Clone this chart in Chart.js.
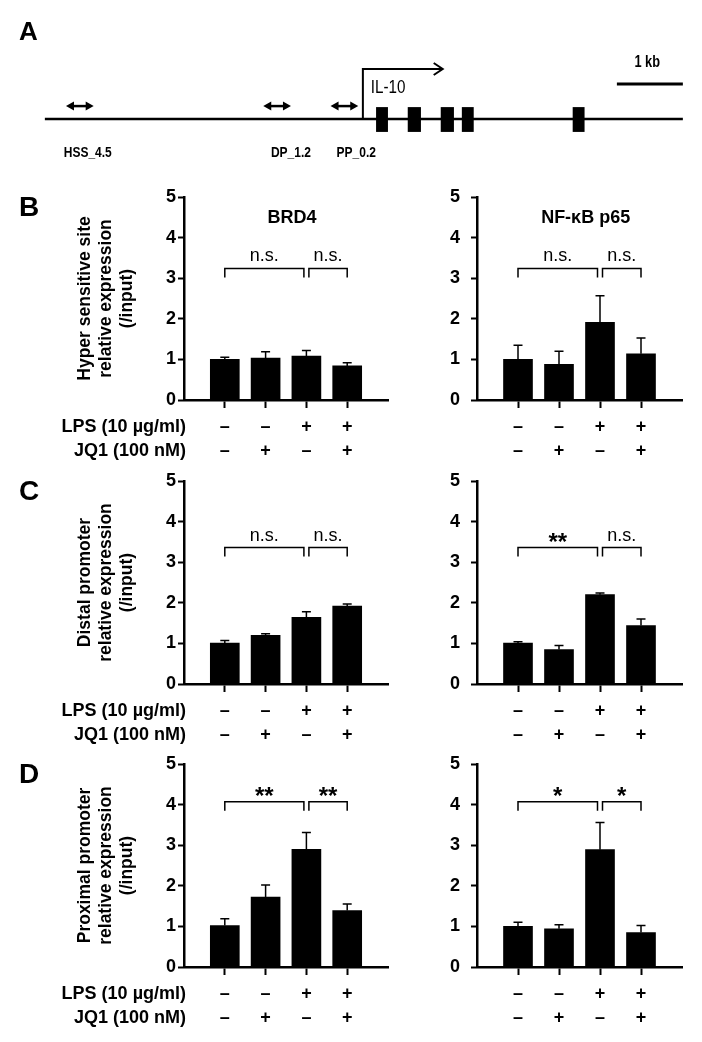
<!DOCTYPE html>
<html>
<head>
<meta charset="utf-8">
<script src="https://cdn.jsdelivr.net/npm/chart.js@4.4.1/dist/chart.umd.min.js"></script>
<style>
  html, body { margin: 0; padding: 0; background: #fff; }
  #page { position: relative; width: 702px; height: 1042px; overflow: hidden; background: #fff; }
  #page canvas { position: absolute; }
</style>
</head>
<body>
<div id="page">
  <canvas id="locus" width="702" height="170" style="left:0;top:0"></canvas>
  <canvas id="hssBrd4" width="395" height="303" style="left:0;top:167px"></canvas>
  <canvas id="hssP65" width="307" height="303" style="left:395px;top:167px"></canvas>
  <canvas id="dpBrd4" width="395" height="303" style="left:0;top:451px"></canvas>
  <canvas id="dpP65" width="307" height="303" style="left:395px;top:451px"></canvas>
  <canvas id="ppBrd4" width="395" height="303" style="left:0;top:734px"></canvas>
  <canvas id="ppP65" width="307" height="303" style="left:395px;top:734px"></canvas>
</div>
<script>
const FONT = "'Liberation Sans', Arial, Helvetica, sans-serif";

// ---- panel A: IL-10 locus, positions in kb relative to the TSS ----
const locusStart = -4.82;
const locusEnd = 4.85;
const exonStart = [0.20, 0.68, 1.18, 1.50, 3.18];
const exonEnd = [0.38, 0.88, 1.38, 1.68, 3.36];
const ampliconNames = ['HSS_4.5', 'DP_1.2', 'PP_0.2'];
const ampliconPos = [-4.29, -1.30, -0.28];
const ampliconLabelPos = [-4.17, -1.09, -0.10];
const tssArrowEnd = 1.21;
const scaleBar = [3.85, 4.85];

// ---- panels B-D: ChIP-qPCR, relative to input ----
const lpsRow = ['–', '–', '+', '+'];
const jq1Row = ['–', '+', '–', '+'];
const comparisons = [[0, 2], [2, 3]];

// B: hypersensitive site
const brd4Hss = [1.00, 1.03, 1.08, 0.84];
const brd4HssErr = [0.05, 0.16, 0.14, 0.08];
const p65Hss = [1.00, 0.88, 1.91, 1.14];
const p65HssErr = [0.35, 0.32, 0.66, 0.39];
const brd4HssSig = ['n.s.', 'n.s.'];
const p65HssSig = ['n.s.', 'n.s.'];

// C: distal promoter
const brd4Dp = [1.01, 1.20, 1.64, 1.92];
const brd4DpErr = [0.06, 0.04, 0.14, 0.05];
const p65Dp = [1.01, 0.85, 2.20, 1.44];
const p65DpErr = [0.03, 0.10, 0.04, 0.16];
const brd4DpSig = ['n.s.', 'n.s.'];
const p65DpSig = ['**', 'n.s.'];

// D: proximal promoter
const brd4Pp = [1.02, 1.72, 2.90, 1.39];
const brd4PpErr = [0.17, 0.30, 0.41, 0.16];
const p65Pp = [1.00, 0.94, 2.89, 0.85];
const p65PpErr = [0.10, 0.10, 0.67, 0.17];
const brd4PpSig = ['**', '**'];
const p65PpSig = ['*', '*'];

const bracketLevel = { hss: 3.24, dp: 3.36, pp: 4.07 };

Chart.defaults.font.family = FONT;
Chart.defaults.color = '#000';

function condensedText(ctx, text, px, py, font, align) {
  ctx.save();
  ctx.translate(px, py);
  ctx.scale(0.8, 1);
  ctx.font = font;
  ctx.textAlign = align;
  ctx.textBaseline = 'middle';
  ctx.fillText(text, 0, 0);
  ctx.restore();
}

const locusPlugin = {
  id: 'locus',
  afterDatasetsDraw(chart) {
    const { ctx, scales: { x, y } } = chart;
    ctx.save();
    ctx.fillStyle = '#000';
    ctx.strokeStyle = '#000';

    ctx.font = `bold 26px ${FONT}`;
    ctx.textBaseline = 'alphabetic';
    ctx.fillText('A', 19, 40);

    exonStart.forEach((s, i) => {
      const x1 = x.getPixelForValue(s), x2 = x.getPixelForValue(exonEnd[i]);
      const y1 = y.getPixelForValue(0.35), y2 = y.getPixelForValue(-0.38);
      ctx.fillRect(x1, y1, x2 - x1, y2 - y1);
    });

    ampliconPos.forEach((c, i) => {
      const x1 = x.getPixelForValue(c - 0.21), x2 = x.getPixelForValue(c + 0.21);
      const py = y.getPixelForValue(0.38);
      ctx.lineWidth = 2.5;
      ctx.beginPath();
      ctx.moveTo(x1 + 6, py);
      ctx.lineTo(x2 - 6, py);
      ctx.stroke();
      ctx.beginPath();
      ctx.moveTo(x1, py); ctx.lineTo(x1 + 8, py - 4.5); ctx.lineTo(x1 + 8, py + 4.5); ctx.closePath();
      ctx.moveTo(x2, py); ctx.lineTo(x2 - 8, py - 4.5); ctx.lineTo(x2 - 8, py + 4.5); ctx.closePath();
      ctx.fill();
      condensedText(ctx, ampliconNames[i], x.getPixelForValue(ampliconLabelPos[i]), y.getPixelForValue(-1.0), `bold 15px ${FONT}`, 'center');
    });

    // open arrow head on the transcription start arrow
    const tipX = x.getPixelForValue(tssArrowEnd), tipY = y.getPixelForValue(1.47);
    ctx.lineWidth = 2;
    ctx.beginPath();
    ctx.moveTo(tipX - 9, tipY - 6);
    ctx.lineTo(tipX, tipY);
    ctx.lineTo(tipX - 9, tipY + 6);
    ctx.stroke();

    condensedText(ctx, 'IL-10', x.getPixelForValue(0.12), y.getPixelForValue(0.91), `19px ${FONT}`, 'left');
    condensedText(ctx, '1 kb', x.getPixelForValue((scaleBar[0] + scaleBar[1]) / 2 - 0.04), y.getPixelForValue(1.65), `bold 16px ${FONT}`, 'center');
    ctx.restore();
  }
};

new Chart(document.getElementById('locus'), {
  type: 'scatter',
  data: {
    datasets: [
      { data: [{ x: locusStart, y: 0 }, { x: locusEnd, y: 0 }], showLine: true, borderColor: '#000', borderWidth: 2.5, pointRadius: 0 },
      { data: [{ x: 0, y: 0 }, { x: 0, y: 1.47 }, { x: tssArrowEnd, y: 1.47 }], showLine: true, borderColor: '#000', borderWidth: 2, pointRadius: 0 },
      { data: [{ x: scaleBar[0], y: 1.03 }, { x: scaleBar[1], y: 1.03 }], showLine: true, borderColor: '#000', borderWidth: 3, pointRadius: 0 }
    ]
  },
  options: {
    responsive: false,
    animation: false,
    events: [],
    layout: { padding: 0 },
    plugins: { legend: { display: false }, tooltip: { enabled: false } },
    scales: {
      x: { type: 'linear', display: false, min: -5.5, max: 5.14 },
      y: { type: 'linear', display: false, min: -1.5, max: 3.5 }
    }
  },
  plugins: [locusPlugin]
});

// error bars, significance brackets and extra labels
const annotate = {
  id: 'annot',
  afterDraw(chart, args, o) {
    const { ctx, chartArea: area, scales: { x, y } } = chart;
    const meta = chart.getDatasetMeta(0);
    const data = chart.data.datasets[0].data;
    ctx.save();
    ctx.strokeStyle = '#000';
    ctx.fillStyle = '#000';
    ctx.lineWidth = 1.5;

    meta.data.forEach((bar, i) => {
      if (data[i] == null) return;
      const top = y.getPixelForValue(data[i] + o.errors[i]);
      ctx.beginPath();
      ctx.moveTo(bar.x, bar.y);
      ctx.lineTo(bar.x, top);
      ctx.moveTo(bar.x - 4.5, top);
      ctx.lineTo(bar.x + 4.5, top);
      ctx.stroke();
    });

    const yb = y.getPixelForValue(o.level);
    comparisons.forEach(([a, b], k) => {
      const x1 = x.getPixelForValue(a + 1) + (a === 2 ? 2.5 : 0);
      const x2 = x.getPixelForValue(b + 1) - (b === 2 ? 2.5 : 0);
      ctx.lineWidth = 1.5;
      ctx.beginPath();
      ctx.moveTo(x1, yb + 9);
      ctx.lineTo(x1, yb);
      ctx.lineTo(x2, yb);
      ctx.lineTo(x2, yb + 9);
      ctx.stroke();
      const label = o.sig[k];
      const star = label.includes('*');
      ctx.font = star ? `bold 24px ${FONT}` : `18px ${FONT}`;
      ctx.textAlign = 'center';
      ctx.textBaseline = 'alphabetic';
      const m = ctx.measureText(label);
      const cy = yb - (star ? 10 : 12);
      ctx.fillText(label, (x1 + x2) / 2, cy + (m.actualBoundingBoxAscent - m.actualBoundingBoxDescent) / 2);
    });

    if (o.title) {
      ctx.font = `bold 18px ${FONT}`;
      ctx.textAlign = 'center';
      ctx.textBaseline = 'middle';
      ctx.fillText(o.title, x.getPixelForValue(2.65), y.getPixelForValue(4.47));
    }
    if (o.letter) {
      ctx.font = `bold 28px ${FONT}`;
      ctx.textAlign = 'left';
      ctx.textBaseline = 'alphabetic';
      ctx.fillText(o.letter, 19, area.top + 19);
    }
    if (o.rows) {
      ctx.font = `bold 18px ${FONT}`;
      ctx.textAlign = 'right';
      ctx.textBaseline = 'middle';
      ctx.fillText('LPS (10 µg/ml)', 186, area.bottom + 27);
      ctx.fillText('JQ1 (100 nM)', 186, area.bottom + 51);
    }
    ctx.restore();
  }
};

const axisFont = { family: FONT, size: 18, weight: 'bold' };

function buildBarChart(id, values, errors, sig, level, panel) {
  const isLeft = panel.side === 'left';
  return new Chart(document.getElementById(id), {
    type: 'bar',
    data: {
      labels: [''].concat(lpsRow.map((v, i) => [v, jq1Row[i]]), ['']),
      datasets: [{
        data: [null, ...values, null],
        backgroundColor: '#000',
        borderWidth: 0,
        barThickness: 29
      }]
    },
    options: {
      responsive: false,
      animation: false,
      events: [],
      layout: { padding: { top: 30, right: isLeft ? 6 : 20, bottom: 0, left: 0 } },
      plugins: {
        legend: { display: false },
        tooltip: { enabled: false },
        annot: {
          errors: [null, ...errors, null],
          sig: sig,
          level: level,
          title: panel.title || '',
          letter: panel.letter || '',
          rows: isLeft
        }
      },
      scales: {
        x: {
          type: 'category',
          offset: false,
          grid: {
            offset: false,
            drawOnChartArea: false,
            drawTicks: true,
            tickLength: 8,
            tickWidth: 2,
            tickColor: c => (c.index === 0 || c.index === 5) ? 'rgba(0,0,0,0)' : '#000'
          },
          border: { display: true, color: '#000', width: 2.5 },
          ticks: { color: '#000', font: { ...axisFont, lineHeight: '24px' }, padding: 7, autoSkip: false, maxRotation: 0, minRotation: 0 },
          afterFit: s => { s.height = 70; }
        },
        y: {
          min: 0,
          max: 5,
          ticks: { stepSize: 1, color: '#000', font: axisFont, padding: isLeft ? 2 : 11 },
          grid: { drawOnChartArea: false, drawTicks: true, tickLength: 6, tickWidth: 2, tickColor: '#000' },
          border: { display: true, color: '#000', width: 2.5 },
          title: {
            display: isLeft,
            text: panel.yTitle || '',
            color: '#000',
            font: { family: FONT, size: 17.5, weight: 'bold', lineHeight: 1.2 },
            padding: { top: 74.5, bottom: 0 }
          },
          afterFit: s => { s.width = isLeft ? 184 : 82; }
        }
      }
    },
    plugins: [annotate]
  });
}

buildBarChart('hssBrd4', brd4Hss, brd4HssErr, brd4HssSig, bracketLevel.hss,
  { side: 'left', letter: 'B', title: 'BRD4', yTitle: ['Hyper sensitive site', 'relative expression', '(/input)'] });
buildBarChart('hssP65', p65Hss, p65HssErr, p65HssSig, bracketLevel.hss,
  { side: 'right', title: 'NF-κB p65' });
buildBarChart('dpBrd4', brd4Dp, brd4DpErr, brd4DpSig, bracketLevel.dp,
  { side: 'left', letter: 'C', yTitle: ['Distal promoter', 'relative expression', '(/input)'] });
buildBarChart('dpP65', p65Dp, p65DpErr, p65DpSig, bracketLevel.dp,
  { side: 'right' });
buildBarChart('ppBrd4', brd4Pp, brd4PpErr, brd4PpSig, bracketLevel.pp,
  { side: 'left', letter: 'D', yTitle: ['Proximal promoter', 'relative expression', '(/input)'] });
buildBarChart('ppP65', p65Pp, p65PpErr, p65PpSig, bracketLevel.pp,
  { side: 'right' });
</script>
</body>
</html>
